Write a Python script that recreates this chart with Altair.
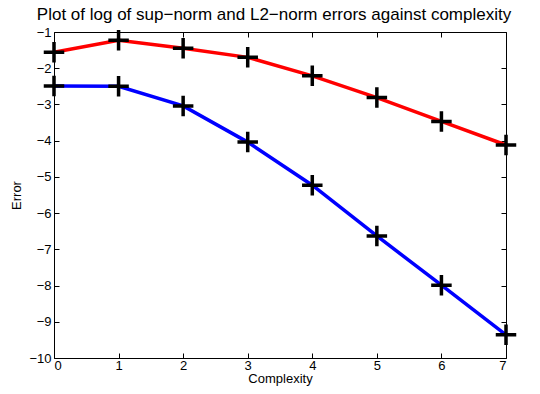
import altair as alt
import pandas as pd

complexity = [0, 1, 2, 3, 4, 5, 6, 7]
sup_norm = [-1.56, -1.23, -1.45, -1.70, -2.21, -2.81, -3.47, -4.12]
l2_norm = [-2.49, -2.50, -3.04, -4.04, -5.23, -6.63, -7.99, -9.36]
series_names = ["sup-norm", "L2-norm"]
series_colors = ["#ff0000", "#0000ff"]
x_ticks = [0, 1, 2, 3, 4, 5, 6, 7]
y_ticks = [-1, -2, -3, -4, -5, -6, -7, -8, -9, -10]

rows = []
for name, vals in zip(series_names, [sup_norm, l2_norm]):
    for c, v in zip(complexity, vals):
        rows.append({"Complexity": c, "Error": v, "series": name})
df = pd.DataFrame(rows)

FONT = "Liberation Sans"
xs = alt.Scale(domain=[0, 7], nice=False, zero=False)
ys = alt.Scale(domain=[-10, -1], nice=False, zero=False)

base = alt.Chart(df)

lines = base.mark_line(strokeWidth=3.5).encode(
    x=alt.X("Complexity:Q", scale=xs,
            axis=alt.Axis(values=x_ticks, orient="bottom", offset=-5, tickSize=5, grid=False,
                          tickColor="black", domain=False, labelPadding=1,
                          labelFontSize=13, labelColor="black", labelFont=FONT,
                          title="Complexity", titleFont=FONT, titleFontSize=13,
                          titleFontWeight="normal", titleColor="black", titlePadding=0)),
    y=alt.Y("Error:Q", scale=ys,
            axis=alt.Axis(values=y_ticks, orient="left", offset=-5, tickSize=5, grid=False,
                          tickColor="black", domain=False, labelPadding=3,
                          labelFontSize=13, labelColor="black", labelFont=FONT,
                          title="Error", titleFont=FONT, titleFontSize=13,
                          titleFontWeight="normal", titleColor="black", titlePadding=5)),
    color=alt.Color("series:N", scale=alt.Scale(domain=series_names, range=series_colors),
                    legend=None),
    detail="series:N",
)

points = base.mark_point(
    shape="M-1,0L1,0M0,-1L0,1", filled=False, strokeWidth=3.5, color="black", size=420, opacity=1
).encode(
    x=alt.X("Complexity:Q", scale=xs, axis=None),
    y=alt.Y("Error:Q", scale=ys, axis=None),
)

frame_axes = base.mark_point(opacity=0).encode(
    x=alt.X("Complexity:Q", scale=xs,
            axis=alt.Axis(values=x_ticks, orient="top", offset=-5, tickSize=5, grid=False,
                          tickColor="black", domain=False, labels=False, title=None)),
    y=alt.Y("Error:Q", scale=ys,
            axis=alt.Axis(values=y_ticks, orient="right", offset=-5, tickSize=5, grid=False,
                          tickColor="black", domain=False, labels=False, title=None)),
)

chart = alt.layer(lines, points, frame_axes).resolve_axis(
    x="independent", y="independent"
).properties(
    width=452, height=326,
    title=alt.TitleParams("Plot of log of sup\u2212norm and L2\u2212norm errors against complexity",
                          font=FONT, fontSize=17, fontWeight="normal", color="black",
                          offset=-1, dx=-6),
    autosize=alt.AutoSizeParams(type="none"),
    padding={"left": 46, "top": 24, "right": 26, "bottom": 28},
).configure_view(stroke="black", strokeWidth=1)

chart.save("out.html", embed_options={"renderer": "svg", "actions": False})
